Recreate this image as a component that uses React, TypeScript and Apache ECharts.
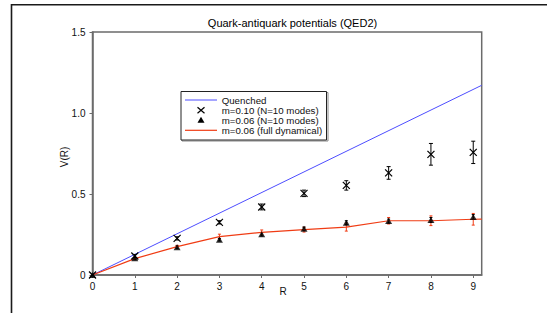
import React, { useEffect, useRef } from "react";
import * as echarts from "echarts";

const R = [0, 1, 2, 3, 4, 5, 6, 7, 8, 9];
const yTicks = [0, 0.5, 1.0, 1.5];
const quenchedR = [0, 9.2];
const quenchedV = [0, 1.171];
const m10V = [0, 0.117, 0.226, 0.325, 0.42, 0.504, 0.553, 0.63, 0.745, 0.757];
const m10Err = [0, 0.01, 0.01, 0.01, 0.018, 0.02, 0.029, 0.039, 0.067, 0.069];
const m06V = [0, 0.103, 0.171, 0.218, 0.251, 0.286, 0.323, 0.333, 0.34, 0.358];
const m06Err = [0, 0.008, 0.008, 0.008, 0.01, 0.01, 0.012, 0.012, 0.015, 0.015];
const dynR = [0, 1, 2, 3, 4, 5, 6, 7, 8, 9, 9.2];
const dynV = [0, 0.101, 0.175, 0.237, 0.263, 0.28, 0.296, 0.335, 0.335, 0.344, 0.345];
const dynErr = [0, 0.006, 0.008, 0.015, 0.015, 0.015, 0.025, 0.02, 0.03, 0.036];

const title = "Quark-antiquark potentials (QED2)";
const legendLabels = [
  "Quenched",
  "m=0.10 (N=10 modes)",
  "m=0.06 (N=10 modes)",
  "m=0.06 (full dynamical)",
];

const BLUE = "#4d4dff";
const RED = "#f03c14";
const FONT = "'Liberation Sans', Arial, sans-serif";

function errorBars(color: string, cap: number, cross: boolean) {
  return (params: any, api: any) => {
    const x = api.value(0);
    const y = api.value(1);
    const e = api.value(2);
    const p = api.coord([x, y]);
    const hi = api.coord([x, y + e]);
    const lo = api.coord([x, y - e]);
    const children: any[] = [];
    const st = { stroke: color, lineWidth: 1 };
    if (e > 0) {
      children.push({ type: "line", shape: { x1: p[0], y1: hi[1], x2: p[0], y2: lo[1] }, style: st });
      children.push({ type: "line", shape: { x1: p[0] - cap, y1: hi[1], x2: p[0] + cap, y2: hi[1] }, style: st });
      children.push({ type: "line", shape: { x1: p[0] - cap, y1: lo[1], x2: p[0] + cap, y2: lo[1] }, style: st });
    }
    if (cross) {
      const s = 3.5;
      const cs = { stroke: "#000", lineWidth: 1.2 };
      children.push({ type: "line", shape: { x1: p[0] - s, y1: p[1] - s, x2: p[0] + s, y2: p[1] + s }, style: cs });
      children.push({ type: "line", shape: { x1: p[0] - s, y1: p[1] + s, x2: p[0] + s, y2: p[1] - s }, style: cs });
    }
    return { type: "group", children };
  };
}

export default function App() {
  const ref = useRef<HTMLDivElement>(null);
  useEffect(() => {
    if (!ref.current) return;
    const chart = echarts.init(ref.current, null, { renderer: "svg" });
    const axisColor = "#6b6b6b";
    const lx = 185, tx = 221.7;
    const rows = [100, 110.3, 120.3, 130.3];
    const option: any = {
      animation: false,
      backgroundColor: "#fff",
      textStyle: { fontFamily: FONT },
      grid: {
        left: 92.5,
        top: 32,
        right: 65.3,
        bottom: 38,
        show: true,
        borderColor: axisColor,
        borderWidth: 1.5,
        backgroundColor: "transparent",
      },
      xAxis: {
        type: "value",
        min: 0,
        max: 9.2,
        axisLine: { show: true, lineStyle: { color: axisColor, width: 1.5 } },
        axisTick: { show: true, length: 3, customValues: R, lineStyle: { color: axisColor, width: 1 } },
        axisLabel: { customValues: R, color: "#111", fontSize: 10, margin: 6, fontFamily: FONT },
        splitLine: { show: false },
      },
      yAxis: {
        type: "value",
        min: 0,
        max: 1.5,
        axisLine: { show: true, lineStyle: { color: axisColor, width: 1.5 } },
        axisTick: { show: true, length: 3, customValues: yTicks, lineStyle: { color: axisColor, width: 1 } },
        axisLabel: {
          customValues: yTicks,
          color: "#111",
          fontSize: 10,
          margin: 7,
          fontFamily: FONT,
          formatter: (v: number) => (v === 0 ? "0" : v.toFixed(1)),
        },
        splitLine: { show: false },
      },
      series: [
        {
          name: legendLabels[0],
          type: "line",
          data: quenchedR.map((r, i) => [r, quenchedV[i]]),
          showSymbol: false,
          symbol: "none",
          lineStyle: { color: BLUE, width: 1 },
        },
        {
          name: legendLabels[3],
          type: "line",
          data: dynR.map((r, i) => [r, dynV[i]]),
          showSymbol: false,
          symbol: "none",
          lineStyle: { color: RED, width: 1.2 },
        },
        {
          type: "custom",
          renderItem: errorBars(RED, 1.5, false),
          data: R.map((r, i) => [r, dynV[i], dynErr[i]]),
          z: 3,
        },
        {
          type: "custom",
          renderItem: errorBars("#000", 1.5, false),
          data: R.map((r, i) => [r, m06V[i], m06Err[i]]),
          z: 3,
        },
        {
          name: legendLabels[2],
          type: "scatter",
          data: R.map((r, i) => [r, m06V[i]]),
          symbol: "triangle",
          symbolSize: [7, 6],
          itemStyle: { color: "#000" },
          z: 4,
        },
        {
          name: legendLabels[1],
          type: "custom",
          renderItem: errorBars("#000", 2, true),
          data: R.map((r, i) => [r, m10V[i], m10Err[i]]),
          z: 5,
        },
      ],
      graphic: [
        // outer frame
        { type: "line", shape: { x1: 11.5, y1: 4.8, x2: 547, y2: 4.8 }, style: { stroke: "#1a1a1a", lineWidth: 1.5 } },
        { type: "line", shape: { x1: 11.5, y1: 4, x2: 11.5, y2: 313 }, style: { stroke: "#1a1a1a", lineWidth: 1.6 } },
        // title
        {
          type: "text",
          x: 292.5,
          y: 23.3,
          style: { text: title, fontSize: 11, fontFamily: FONT, fill: "#000", align: "center", verticalAlign: "middle" },
        },
        // axis names
        {
          type: "text",
          x: 64,
          y: 157,
          rotation: Math.PI / 2,
          style: { text: "V(R)", fontSize: 10, fontFamily: FONT, fill: "#111", align: "center", verticalAlign: "middle" },
        },
        {
          type: "text",
          x: 283,
          y: 291,
          style: { text: "R", fontSize: 10, fontFamily: FONT, fill: "#111", align: "center", verticalAlign: "middle" },
        },
        // legend box
        { type: "rect", shape: { x: 182, y: 92.5, width: 146, height: 48.5 }, style: { fill: "none", stroke: "#888", lineWidth: 1 }, z: 10 },
        { type: "rect", shape: { x: 181, y: 91.5, width: 145.5, height: 48.5 }, style: { fill: "#fff", stroke: "#222", lineWidth: 1 }, z: 11 },
        { type: "line", shape: { x1: lx, y1: rows[0], x2: 217, y2: rows[0] }, style: { stroke: BLUE, lineWidth: 1 }, z: 12 },
        { type: "line", shape: { x1: lx, y1: rows[3], x2: 217, y2: rows[3] }, style: { stroke: RED, lineWidth: 1.2 }, z: 12 },
        { type: "line", shape: { x1: 197.5, y1: rows[1] - 3, x2: 204.5, y2: rows[1] + 3 }, style: { stroke: "#000", lineWidth: 1.2 }, z: 12 },
        { type: "line", shape: { x1: 197.5, y1: rows[1] + 3, x2: 204.5, y2: rows[1] - 3 }, style: { stroke: "#000", lineWidth: 1.2 }, z: 12 },
        { type: "polygon", shape: { points: [[201, rows[2] - 3.5], [204.5, rows[2] + 2.5], [197.5, rows[2] + 2.5]] }, style: { fill: "#000" }, z: 12 },
        ...legendLabels.map((t, i) => ({
          type: "text",
          x: tx,
          y: rows[i],
          z: 12,
          style: { text: t, fontSize: 9.7, fontFamily: FONT, fill: "#111", align: "left", verticalAlign: "middle" },
        })),
      ],
    };
    chart.setOption(option);
    return () => chart.dispose();
  }, []);
  return (
    <div
      ref={ref}
      style={{ position: "absolute", left: 0, top: 0, width: 547, height: 313, background: "#fff" }}
    />
  );
}
